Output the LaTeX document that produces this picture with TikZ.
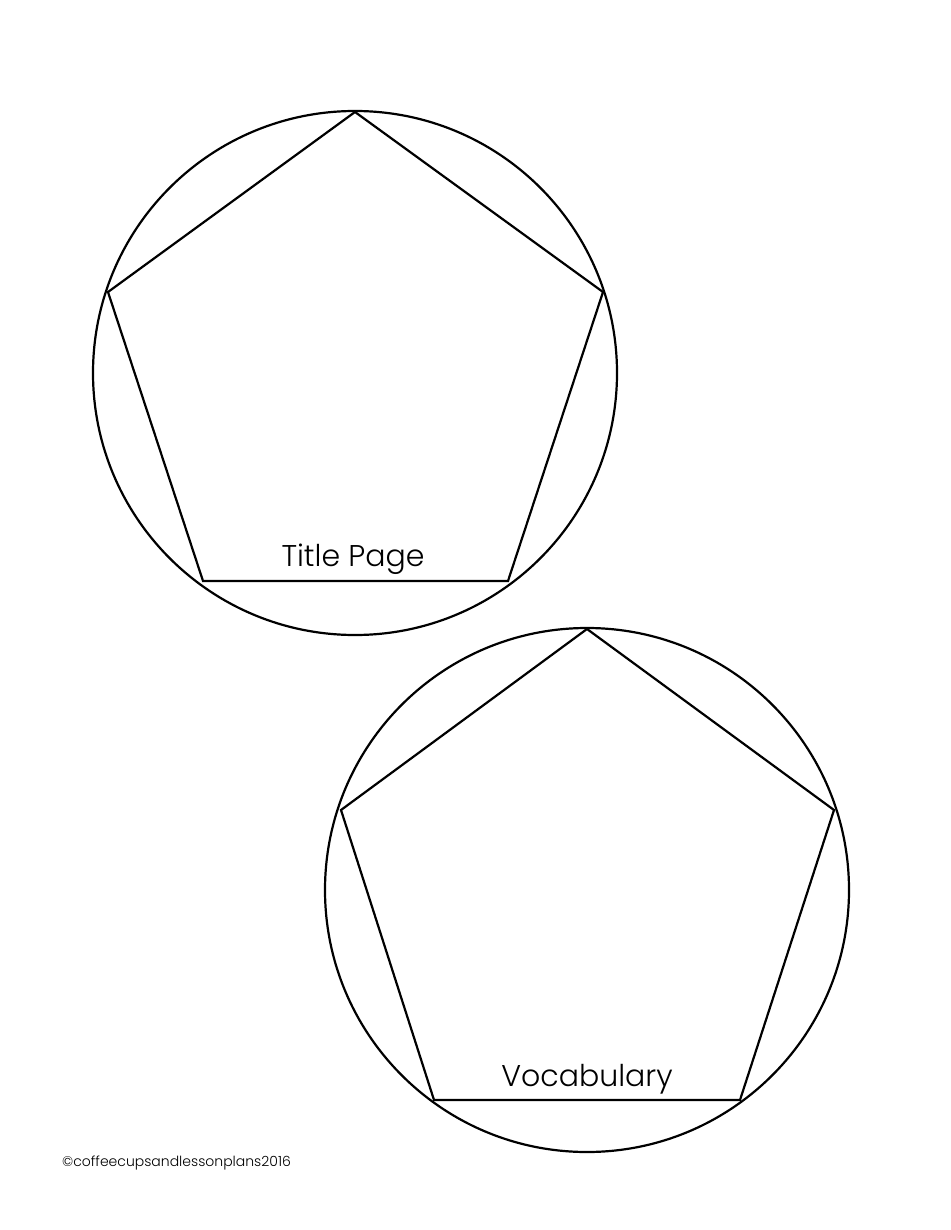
\documentclass[tikz,border=0pt]{standalone}
\usepackage{fontspec}
\setmainfont{Poppins}
\begin{document}
\begin{tikzpicture}[x=1pt,y=-1pt,
  outline/.style={draw=black,line width=2.2pt,line join=miter},
  label/.style={inner sep=0pt,font=\fontsize{30}{34}\selectfont\fontspec{Poppins Light}},
]
\useasboundingbox[fill=white] (0,0) rectangle (950,1230);
% first shape
\node[outline,circle,minimum size=524pt,inner sep=0pt] (c1) at (355,373) {};
\coordinate (a1) at (355,112);
\coordinate (a2) at (603,292);
\coordinate (a3) at (508,581);
\coordinate (a4) at (203,581);
\coordinate (a5) at (108,292);
\draw[outline] (a1) -- (a2) -- (a3) -- (a4) -- (a5) -- cycle;
\node[label,anchor=base] (t1) at (353,566) {Title Page};
% second shape
\node[outline,circle,minimum size=524pt,inner sep=0pt] (c2) at (587,890) {};
\coordinate (b1) at (587,629);
\coordinate (b2) at (834,810);
\coordinate (b3) at (740,1100);
\coordinate (b4) at (434,1100);
\coordinate (b5) at (341,810);
\draw[outline] (b1) -- (b2) -- (b3) -- (b4) -- (b5) -- cycle;
\node[label,anchor=base] (t2) at (587,1086) {Vocabulary};
\node[inner sep=0pt,anchor=base west,font=\fontsize{14}{16}\selectfont\fontspec{Poppins Light}] (copy) at (62,1166) {©coffeecupsandlessonplans2016};
\end{tikzpicture}
\end{document}
